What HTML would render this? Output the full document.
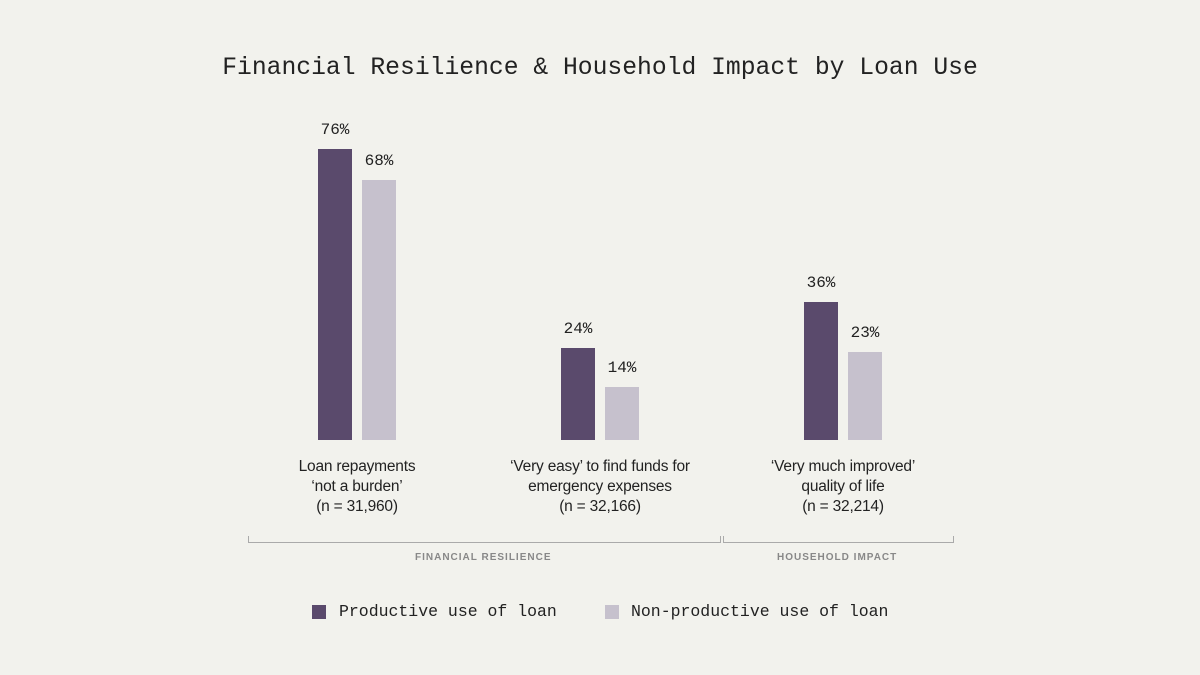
<!DOCTYPE html><html><head><style>
body{margin:0;width:1200px;height:675px;background:#f2f2ed;position:relative;overflow:hidden;font-family:"Liberation Sans",sans-serif}
.a{position:absolute}
.m{font-family:"Liberation Mono",monospace;color:#222}
.b{position:absolute;width:34px}
.p{background:#5a4a6c}.n{background:#c6c1cd}
.v{position:absolute;width:60px;text-align:center;font-family:"Liberation Mono",monospace;font-size:16px;color:#222}
.l{position:absolute;width:240px;text-align:center;font-size:15.5px;line-height:20px;color:#222;top:457px;letter-spacing:-0.2px}
.g{position:absolute;font-size:10px;font-weight:bold;letter-spacing:1px;color:#888;top:552px}
</style></head><body>
<div class="a m" style="left:0;width:1200px;text-align:center;top:54px;font-size:24.7px">Financial Resilience &amp; Household Impact by Loan Use</div>
<div class="b p" style="left:318px;top:149px;height:291px"></div>
<div class="b n" style="left:362px;top:180px;height:260px"></div>
<div class="b p" style="left:561px;top:348px;height:92px"></div>
<div class="b n" style="left:605px;top:387px;height:53px"></div>
<div class="b p" style="left:804px;top:302px;height:138px"></div>
<div class="b n" style="left:848px;top:352px;height:88px"></div>
<div class="v" style="left:305px;top:121px">76%</div>
<div class="v" style="left:349px;top:152px">68%</div>
<div class="v" style="left:548px;top:320px">24%</div>
<div class="v" style="left:592px;top:359px">14%</div>
<div class="v" style="left:791px;top:274px">36%</div>
<div class="v" style="left:835px;top:324px">23%</div>
<div class="l" style="left:237px">Loan repayments<br>‘not a burden’<br>(n = 31,960)</div>
<div class="l" style="left:480px">‘Very easy’ to find funds for<br>emergency expenses<br>(n = 32,166)</div>
<div class="l" style="left:723px">‘Very much improved’<br>quality of life<br>(n = 32,214)</div>
<div class="a" style="left:248px;top:536px;width:471px;height:6px;border:1px solid #aaa;border-top:none"></div>
<div class="a" style="left:723px;top:536px;width:229px;height:6px;border:1px solid #aaa;border-top:none"></div>
<div class="g" style="left:415px">FINANCIAL RESILIENCE</div>
<div class="g" style="left:777px">HOUSEHOLD IMPACT</div>
<div class="a p" style="left:312px;top:605px;width:14px;height:14px"></div>
<div class="a m" style="left:339px;top:602px;font-size:16.5px">Productive use of loan</div>
<div class="a n" style="left:605px;top:605px;width:14px;height:14px"></div>
<div class="a m" style="left:631px;top:602px;font-size:16.5px">Non-productive use of loan</div>
</body></html>
